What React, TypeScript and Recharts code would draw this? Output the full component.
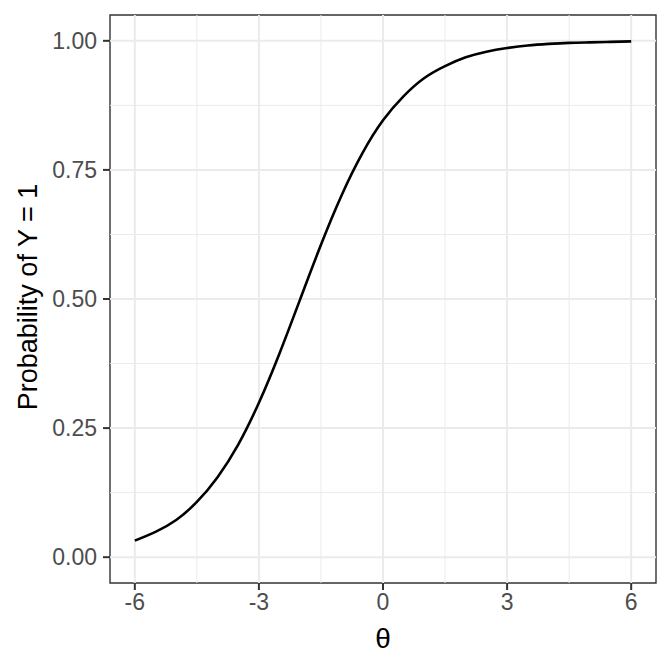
import { LineChart, Line, XAxis, YAxis, ReferenceLine, ReferenceArea } from 'recharts';

// item characteristic curve
const theta = [-6, -5.5, -5, -4.5, -4, -3.5, -3, -2.5, -2, -1.5, -1, -0.5, 0, 0.5, 1, 1.5, 2, 2.5, 3, 3.5, 4, 4.5, 5, 5.5, 6];
const prob = [0.032, 0.049, 0.072, 0.107, 0.155, 0.218, 0.299, 0.395, 0.5, 0.605, 0.701, 0.782, 0.846, 0.893, 0.928, 0.951, 0.968, 0.979, 0.986, 0.991, 0.994, 0.996, 0.997, 0.998, 0.999];

const xTicks = [-6, -3, 0, 3, 6];
const xMinor = [-4.5, -1.5, 1.5, 4.5];
const yTicks = [0, 0.25, 0.5, 0.75, 1];
const yMinor = [0.125, 0.375, 0.625, 0.875];

const data = theta.map((t, i) => ({ theta: t, p: prob[i] }));

const FONT = '"Liberation Sans", Arial, sans-serif';
const GRID = '#ebebeb';

export default function App() {
  return (
    <div style={{ position: 'absolute', left: 0, top: 0, width: 672, height: 672, background: '#fff' }}>
      <LineChart width={672} height={672} data={data} margin={{ top: 15, right: 16, left: 0, bottom: 0 }}>
        <XAxis
          dataKey="theta"
          type="number"
          domain={[-6.6, 6.6]}
          ticks={xTicks}
          allowDataOverflow
          axisLine={false}
          tickSize={7}
          tickMargin={4}
          tickLine={{ stroke: '#333333', strokeWidth: 2 }}
          tick={{ fill: '#4d4d4d', fontSize: 23, fontFamily: FONT }}
          height={89}
          label={{
            content: () => (
              <text x={383} y={648} textAnchor="middle" fontSize={28} fontFamily={FONT} fill="#000">θ</text>
            ),
          }}
        />
        <YAxis
          type="number"
          domain={[-0.05, 1.05]}
          ticks={yTicks}
          allowDataOverflow
          axisLine={false}
          width={110}
          tickSize={7}
          tickMargin={6}
          tickLine={{ stroke: '#333333', strokeWidth: 2 }}
          tick={{ fill: '#4d4d4d', fontSize: 23, fontFamily: FONT }}
          tickFormatter={(v: number) => v.toFixed(2)}
          label={{
            content: () => (
              <text x={37} y={297} transform="rotate(-90 37 297)" textAnchor="middle" fontSize={27} fontFamily={FONT} fill="#000">
                Probability of Y = 1
              </text>
            ),
          }}
        />
        {xMinor.map((v) => (
          <ReferenceLine key={`xm${v}`} x={v} stroke={GRID} strokeWidth={1} />
        ))}
        {yMinor.map((v) => (
          <ReferenceLine key={`ym${v}`} y={v} stroke={GRID} strokeWidth={1} />
        ))}
        {xTicks.map((v) => (
          <ReferenceLine key={`xM${v}`} x={v} stroke={GRID} strokeWidth={2} />
        ))}
        {yTicks.map((v) => (
          <ReferenceLine key={`yM${v}`} y={v} stroke={GRID} strokeWidth={2} />
        ))}
        <Line type="natural" dataKey="p" stroke="#000" strokeWidth={2.6} dot={false} isAnimationActive={false} />
        <ReferenceArea x1={-6.6} x2={6.6} y1={-0.05} y2={1.05} fill="none" stroke="#333333" strokeWidth={1.4} />
      </LineChart>
    </div>
  );
}
